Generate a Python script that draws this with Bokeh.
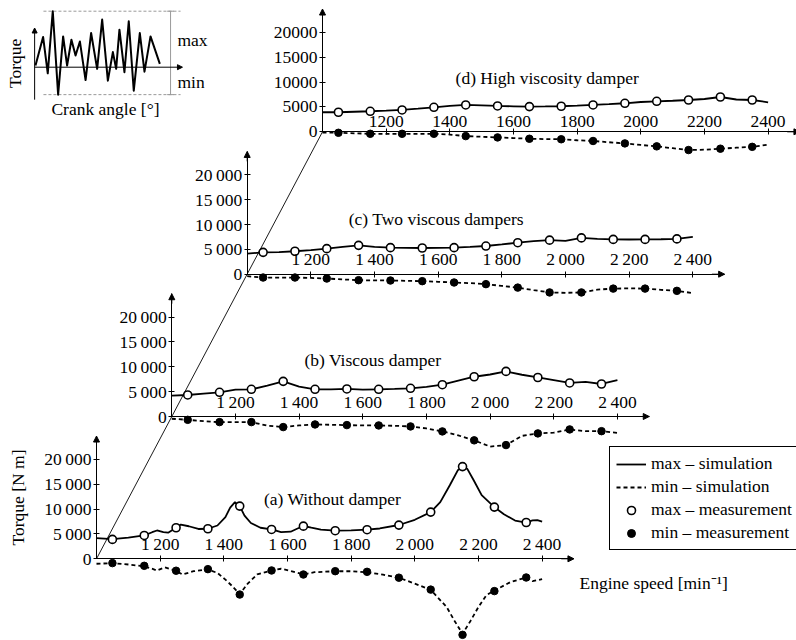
import math
from bokeh.plotting import figure
from bokeh.models import (Range1d, LinearAxis, FixedTicker, Arrow, NormalHead,
                          Legend, LegendItem, Label)
from bokeh.embed import file_html
from bokeh.resources import INLINE
from bokeh.core.properties import value

# ---------------------------------------------------------------- data
meas_rpm = [1050, 1150, 1250, 1350, 1450, 1550, 1650, 1750, 1850, 1950, 2050, 2150, 2250, 2350]

# (a) Without damper
a_sim_max_rpm = [1000, 1050, 1100, 1150, 1175, 1190, 1210, 1225, 1250, 1265, 1290, 1320, 1350, 1380,
                 1405, 1420, 1435, 1450, 1465, 1485, 1515, 1550, 1580, 1610, 1630, 1650, 1675, 1705,
                 1750, 1800, 1850, 1890, 1950, 2000, 2050, 2080, 2110, 2135, 2150, 2165, 2185, 2210,
                 2250, 2280, 2315, 2350, 2370, 2385, 2400]
a_sim_max = [4150, 3950, 4250, 4700, 5350, 5700, 5350, 5250, 6250, 6900, 6550, 6000, 6050, 6700,
             8400, 10300, 11400, 10600, 8700, 7200, 6250, 5900, 5350, 5450, 6050, 6600, 6250, 5850,
             5650, 5700, 5850, 6100, 6800, 7850, 9400, 11400, 14800, 17800, 18500, 18100, 15800, 12800,
             10400, 8950, 7700, 7300, 7750, 7800, 7500]
a_sim_min_rpm = [1000, 1050, 1100, 1150, 1170, 1190, 1215, 1250, 1270, 1305, 1350, 1380, 1405, 1425,
                 1450, 1475, 1505, 1550, 1580, 1610, 1650, 1685, 1750, 1800, 1850, 1900, 1950, 2000,
                 2050, 2100, 2125, 2150, 2175, 2200, 2225, 2250, 2300, 2350, 2370, 2400]
a_sim_min = [-1000, -870, -1150, -1500, -1900, -2350, -1700, -2450, -3150, -2500, -2150, -2850, -4200, -5400,
             -7100, -5000, -3150, -2350, -2000, -2450, -3150, -2700, -2500, -2500, -2700, -3200, -3800, -5000,
             -6250, -9700, -12500, -15100, -12500, -9700, -7300, -6400, -4700, -3750, -4500, -4100]
a_meas_max = [3900, 4700, 6250, 6050, 10600, 5900, 6570, 5650, 5850, 6780, 9400, 18550, 10400, 7300]
a_meas_min = [-870, -1410, -2400, -2080, -7190, -2350, -3160, -2490, -2620, -3800, -6200, -15300, -6500, -3760]

sim_rpm = [1000, 1050, 1100, 1150, 1200, 1250, 1300, 1350, 1400, 1450, 1500, 1550, 1600, 1650, 1700,
           1750, 1800, 1850, 1900, 1950, 2000, 2050, 2100, 2150, 2200, 2250, 2300, 2350, 2400]

# (b) Viscous damper
b_sim_max = [4200, 4330, 4600, 4870, 5400, 5470, 6200, 7070, 6000, 5470, 5450, 5540, 5400, 5470, 5550,
             5670, 5950, 6400, 7200, 8000, 8450, 9070, 8400, 7850, 7300, 6750, 6950, 6540, 7300]
b_sim_min = [-450, -670, -950, -1130, -1130, -1130, -1850, -2130, -1800, -1600, -1670, -1730, -1800, -1800, -1870,
             -2000, -2400, -3000, -3800, -4800, -6050, -5750, -3900, -3400, -3250, -2600, -2950, -2950, -3300]
b_meas_max = [4330, 4870, 5470, 7070, 5470, 5540, 5470, 5670, 6400, 8000, 9070, 7850, 6750, 6540]
b_meas_min = [-670, -1130, -1130, -2130, -1600, -1730, -1800, -2000, -3000, -4800, -5750, -3400, -2600, -2950]

# (c) Two viscous dampers
c_sim_max = [4150, 4400, 4450, 4620, 4850, 5140, 5500, 5800, 5500, 5340, 5280, 5270, 5280, 5340, 5500,
             5670, 6000, 6340, 6650, 6850, 6700, 7300, 7100, 7000, 6980, 7000, 7030, 7100, 7500]
c_sim_min = [-400, -670, -670, -670, -750, -870, -1050, -1200, -1250, -1270, -1330, -1400, -1530, -1670, -1800,
             -2000, -2350, -2700, -3200, -3670, -3750, -3670, -3100, -2900, -2850, -2900, -3150, -3350, -3800]
c_meas_max = [4400, 4620, 5140, 5800, 5340, 5270, 5340, 5670, 6340, 6850, 7300, 7000, 7000, 7100]
c_meas_min = [-670, -670, -870, -1200, -1270, -1400, -1670, -2000, -2700, -3670, -3670, -2900, -2900, -3350]

# (d) High viscosity damper
d_sim_max = [3930, 3930, 4030, 4130, 4250, 4400, 4650, 4930, 5200, 5400, 5300, 5200, 5130, 5070, 5100,
             5140, 5250, 5400, 5550, 5740, 6000, 6140, 6250, 6400, 6600, 7000, 6500, 6400, 5940]
d_sim_min = [-150, -200, -300, -400, -400, -400, -400, -400, -550, -870, -1000, -1130, -1270, -1400, -1470,
             -1500, -1700, -1850, -2100, -2330, -2650, -2930, -3300, -3670, -3600, -3400, -3200, -3030, -2580]
d_meas_max = [3930, 4130, 4400, 4930, 5400, 5200, 5070, 5140, 5400, 5740, 6140, 6400, 7000, 6400]
d_meas_min = [-200, -400, -400, -400, -870, -1130, -1400, -1500, -1850, -2330, -2930, -3670, -3400, -3030]

x_ticks = [1200, 1400, 1600, 1800, 2000, 2200, 2400]
x_tick_labels = ["1\u2009200", "1\u2009400", "1\u2009600", "1\u2009800", "2\u2009000", "2\u2009200", "2\u2009400"]
x_tick_labels_d = ["1200", "1400", "1600", "1800", "2000", "2200", "2400"]
y_ticks = [0, 5000, 10000, 15000, 20000]
y_tick_labels = ["0", "5\u2009000", "10\u2009000", "15\u2009000", "20\u2009000"]
y_tick_labels_d = ["0", "5000", "10000", "15000", "20000"]

panel_titles = {"a": "(a) Without damper", "b": "(b) Viscous damper",
                "c": "(c) Two viscous dampers", "d": "(d) High viscosity damper"}
legend_labels = ["max \u2013 simulation", "min \u2013 simulation",
                 "max \u2013 measurement", "min \u2013 measurement"]

# inset sketch: crank angle [deg] vs normalised torque
inset_angle = [0, 44, 71, 100, 131, 160, 183, 208, 232, 257, 290, 322, 357, 386, 419, 448, 467,
               486, 515, 540, 569, 604, 631, 666, 720]
inset_torque = [0.03, 0.54, -0.11, 1.0, -0.49, 0.55, 0.03, 0.49, 0.21, 0.46, -0.23, 0.61, -0.03, 0.85,
                -0.24, 0.27, -0.03, 0.67, -0.09, 0.82, -0.42, 0.61, -0.08, 0.55, 0.06]
inset_max = 1.0
inset_min = -0.49

# ---------------------------------------------------------------- layout / style
W, H = 796, 640
FONT = "Liberation Serif"
FS = "17.5px"
RPM0, RPM_END = 1000, 2500
NM_END = 24700
PX_PER_RPM = 0.3183
PX_PER_NM = 0.00497
ORIGIN = {"a": (96.0, 558.3), "b": (171.3, 416.0), "c": (246.7, 273.7), "d": (322.0, 131.3)}
TITLE_POS = {"a": (1526, 12000), "b": (1417, 11270), "c": (1319, 11150), "d": (1418, 10900)}
LEGEND_TOP_LEFT = (609, 452)
LEGEND_HEIGHT = 98

INSET_X0, INSET_PX_PER_DEG = 35.0, 0.1727
INSET_Y0, INSET_PX_PER_UNIT = 66.7, 56.0

p = figure(width=W, height=H, x_range=Range1d(0, W), y_range=Range1d(H, 0),
           x_axis_type=None, y_axis_type=None, toolbar_location=None,
           output_backend="svg", min_border=0, outline_line_color=None)
p.background_fill_color = "white"

# diagonal construction line through the panel origins
p.line([ORIGIN["a"][0], ORIGIN["d"][0]], [ORIGIN["a"][1], ORIGIN["d"][1]],
       line_color="black", line_width=0.9)

panels = {
    "a": (a_sim_max_rpm, a_sim_max, a_sim_min_rpm, a_sim_min, a_meas_max, a_meas_min),
    "b": (sim_rpm, b_sim_max, sim_rpm, b_sim_min, b_meas_max, b_meas_min),
    "c": (sim_rpm, c_sim_max, sim_rpm, c_sim_min, c_meas_max, c_meas_min),
    "d": (sim_rpm, d_sim_max, sim_rpm, d_sim_min, d_meas_max, d_meas_min),
}

legend_renderers = None
for k, (rmax, smax, rmin, smin, mmax, mmin) in panels.items():
    ox, oy = ORIGIN[k]
    xn, yn = "x" + k, "y" + k
    p.extra_x_ranges[xn] = Range1d(RPM0 - ox / PX_PER_RPM, RPM0 + (W - ox) / PX_PER_RPM)
    p.extra_y_ranges[yn] = Range1d(-(H - oy) / PX_PER_NM, oy / PX_PER_NM)

    xl = x_tick_labels_d if k == "d" else x_tick_labels
    yl = y_tick_labels_d if k == "d" else y_tick_labels
    common = dict(x_range_name=xn, y_range_name=yn,
                  axis_line_color="black", axis_line_width=1,
                  major_tick_line_color="black", major_tick_line_width=1,
                  major_tick_in=3, major_tick_out=3, minor_tick_line_color=None,
                  major_label_text_font=FONT, major_label_text_font_size=FS,
                  major_label_text_color="black", major_label_standoff=2)
    xax = LinearAxis(fixed_location=0, ticker=FixedTicker(ticks=x_ticks),
                     major_label_overrides=dict(zip(x_ticks, xl)),
                     bounds=(RPM0, RPM_END), **common)
    p.add_layout(xax, "above")
    yax = LinearAxis(fixed_location=RPM0, ticker=FixedTicker(ticks=y_ticks),
                     major_label_overrides=dict(zip(y_ticks, yl)),
                     bounds=(0, NM_END), **common)
    p.add_layout(yax, "left")

    head = dict(size=6, fill_color="black", line_color="black")
    p.add_layout(Arrow(end=NormalHead(**head), x_start=RPM_END - 40, y_start=0,
                       x_end=RPM_END, y_end=0, x_range_name=xn, y_range_name=yn,
                       line_width=1))
    p.add_layout(Arrow(end=NormalHead(**head), x_start=RPM0, y_start=NM_END - 2000,
                       x_end=RPM0, y_end=NM_END, x_range_name=xn, y_range_name=yn,
                       line_width=1))

    l1 = p.line(rmax, smax, x_range_name=xn, y_range_name=yn, line_color="black", line_width=1.8)
    l2 = p.line(rmin, smin, x_range_name=xn, y_range_name=yn, line_color="black", line_width=1.8,
                line_dash="4 3")
    s1 = p.scatter(meas_rpm, mmax, x_range_name=xn, y_range_name=yn, marker="circle", size=8,
                   fill_color="white", line_color="black", line_width=1.6)
    s2 = p.scatter(meas_rpm, mmin, x_range_name=xn, y_range_name=yn, marker="circle", size=7.5,
                   fill_color="black", line_color="black")
    tx, ty = TITLE_POS[k]
    p.text(x=[tx], y=[ty], text=[panel_titles[k]], x_range_name=xn, y_range_name=yn,
           text_font=value(FONT), text_font_size=FS, text_color="black",
           text_align="left", text_baseline="middle")
    if k == "a":
        legend_renderers = [l1, l2, s1, s2]

# Legend location is the bottom-left corner of the box, measured from the frame bottom
legend = Legend(items=[LegendItem(label=lab, renderers=[r])
                       for lab, r in zip(legend_labels, legend_renderers)],
                location=(LEGEND_TOP_LEFT[0], H - LEGEND_TOP_LEFT[1] - LEGEND_HEIGHT),
                orientation="vertical",
                border_line_color="black", border_line_width=1, border_line_alpha=1,
                background_fill_color="white", background_fill_alpha=1,
                label_text_font=FONT, label_text_font_size=FS, label_text_color="black",
                glyph_width=30, glyph_height=20, label_height=20, spacing=2,
                padding=6, margin=0, label_standoff=5)
p.add_layout(legend)

# axis titles
p.add_layout(Label(x=17, y=H - 497, x_units="screen", y_units="screen", text="Torque [N m]",
                   angle=90, angle_units="deg", text_align="center", text_baseline="middle",
                   text_font=FONT, text_font_size=FS, text_color="black"))
p.add_layout(Label(x=579, y=H - 582, x_units="screen", y_units="screen",
                   text="Engine speed [min\u207b\u00b9]", text_align="left", text_baseline="middle",
                   text_font=FONT, text_font_size=FS, text_color="black"))

# ---------------------------------------------------------------- inset sketch
p.extra_x_ranges["xi"] = Range1d(-INSET_X0 / INSET_PX_PER_DEG, (W - INSET_X0) / INSET_PX_PER_DEG)
p.extra_y_ranges["yi"] = Range1d(-(H - INSET_Y0) / INSET_PX_PER_UNIT, INSET_Y0 / INSET_PX_PER_UNIT)
ik = dict(x_range_name="xi", y_range_name="yi")
gx0, gx1, vline_x = 46, 840, 782
p.line([gx0, gx1], [inset_max, inset_max], line_color="#9a9a9a", line_width=1, line_dash="3 2", **ik)
p.line([gx0, gx1], [inset_min, inset_min], line_color="#9a9a9a", line_width=1, line_dash="3 2", **ik)
p.line([vline_x, vline_x], [inset_min, inset_max], line_color="#9a9a9a", line_width=1, **ik)
p.line([vline_x - 20, vline_x + 20], [inset_max, inset_max], line_color="#9a9a9a", line_width=1, **ik)
p.line([vline_x - 20, vline_x + 20], [inset_min, inset_min], line_color="#9a9a9a", line_width=1, **ik)
p.add_layout(Arrow(end=NormalHead(size=5, fill_color="black", line_color="black"),
                   x_start=-5, y_start=0, x_end=851, y_end=0, line_width=1, **ik))
p.add_layout(Arrow(end=NormalHead(size=5, fill_color="black", line_color="black"),
                   x_start=-5, y_start=-0.58, x_end=-5, y_end=0.70, line_width=1, **ik))
p.line(inset_angle, inset_torque, line_color="black", line_width=2, line_join="round", **ik)
p.text(x=[822, 822], y=[0.48, -0.27], text=["max", "min"], text_font=value(FONT),
       text_font_size=FS, text_align="left", text_baseline="middle", **ik)
p.text(x=[405], y=[-0.74], text=["Crank angle [\u00b0]"], text_font=value(FONT),
       text_font_size=FS, text_align="center", text_baseline="middle", **ik)
p.text(x=[-116], y=[0.07], text=["Torque"], angle=math.pi / 2, text_font=value(FONT),
       text_font_size=FS, text_align="center", text_baseline="middle", **ik)

open("out.html", "w").write(file_html(p, INLINE))
